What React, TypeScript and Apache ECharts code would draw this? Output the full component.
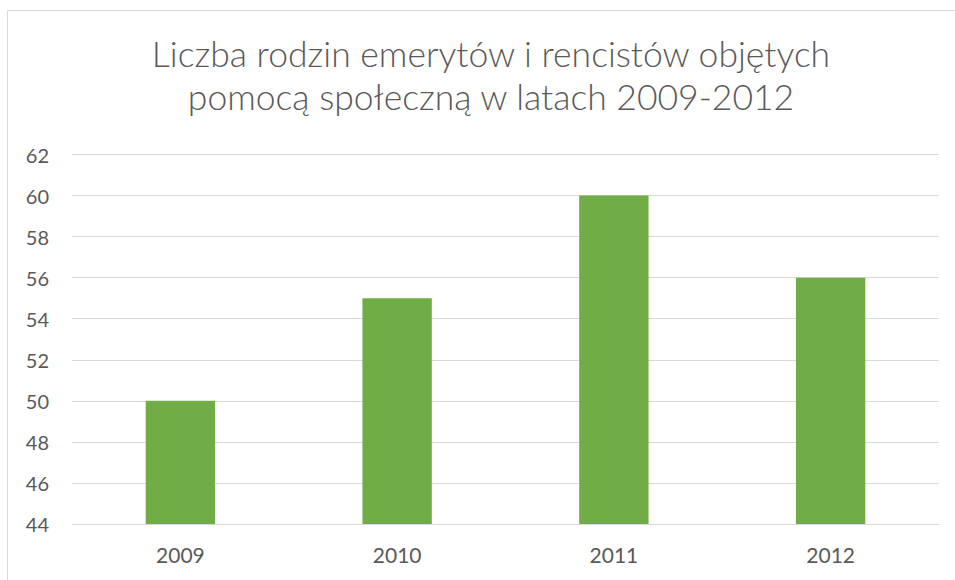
import React, { useEffect, useRef } from "react";
import * as echarts from "echarts";

const titleLines = ["Liczba rodzin emerytów i rencistów objętych", "pomocą społeczną w latach 2009-2012"];
const categories = ["2009", "2010", "2011", "2012"];
const values = [50, 55, 60, 56];
const yMin = 44;
const yMax = 62;
const yInterval = 2;

export default function App() {
  const ref = useRef<HTMLDivElement>(null);
  useEffect(() => {
    if (!ref.current) return;
    const chart = echarts.init(ref.current, null, { renderer: "svg" });
    const font = "Lato, 'Noto Sans', sans-serif";
    chart.setOption({
      animation: false,
      backgroundColor: "#ffffff",
      graphic: [
        {
          type: "rect",
          shape: { x: 7.5, y: 10.5, width: 1000, height: 1000 },
          style: { fill: "none", stroke: "#D9D9D9", lineWidth: 1 },
          silent: true,
        },
      ],
      title: {
        text: titleLines.join("\n"),
        left: 486,
        top: 27,
        textAlign: "center",
        textStyle: {
          fontFamily: font,
          fontSize: 35.5,
          fontWeight: 300,
          color: "#595959",
          lineHeight: 43,
        },
      },
      grid: { left: 72, right: 16, top: 154.5, bottom: 56, containLabel: false },
      xAxis: {
        type: "category",
        data: categories,
        axisLine: { show: true, lineStyle: { color: "#D9D9D9", width: 1 } },
        axisTick: { show: false },
        axisLabel: { color: "#595959", fontSize: 21, fontFamily: font, margin: 20 },
      },
      yAxis: {
        type: "value",
        min: yMin,
        max: yMax,
        interval: yInterval,
        axisLine: { show: false },
        axisTick: { show: false },
        splitLine: { lineStyle: { color: "#D9D9D9", width: 1 } },
        axisLabel: { color: "#595959", fontSize: 20, fontFamily: font, margin: 23 },
      },
      series: [
        {
          type: "bar",
          data: values,
          barWidth: "32%",
          itemStyle: { color: "#70AD47" },
        },
      ],
    });
    return () => chart.dispose();
  }, []);
  return <div ref={ref} style={{ position: "fixed", left: 0, top: 0, width: 955, height: 580 }} />;
}
